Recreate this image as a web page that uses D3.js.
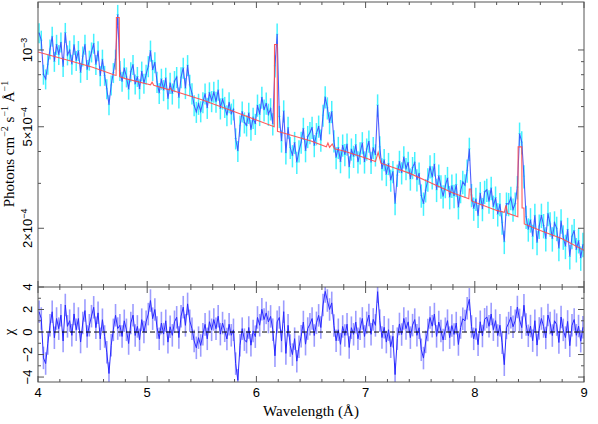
<!DOCTYPE html>
<html>
<head>
<meta charset="utf-8">
<script src="https://cdn.jsdelivr.net/npm/d3@7"></script>
<style>
  body { margin: 0; background: #fff; }
  svg { display: block; }
  .num { font-family: "Liberation Sans", Arial, sans-serif; font-size: 13px; fill: #000; }
  .ttl { font-family: "Liberation Serif", "Times New Roman", serif; font-size: 15px; fill: #000; }
</style>
</head>
<body>
<svg id="chart" width="598" height="424"></svg>
<script>
/* ---------- data (flux in units of 1e-4 photons cm^-2 s^-1 A^-1) ---------- */
const binStart = 4.0, binWidth = 0.02;   // 250 bins, 4.00 - 9.00 A

const flux = [
  11.68, 10.92, 8.03, 7.70, 8.79,   10.08, 11.32, 9.02, 10.52, 9.59,
  10.73, 8.61, 11.71, 9.56, 9.98,   8.79, 10.49, 9.09, 9.95, 8.17,
  9.46, 10.53, 8.38, 9.12, 9.82,    10.62, 8.77, 9.93, 7.92, 9.20,
  7.95, 7.04, 6.10, 7.29, 8.15,     9.20, 13.78, 8.30, 7.53, 8.51,
  7.84, 7.02, 8.22, 8.77, 7.35,     7.87, 7.04, 8.26, 7.41, 8.02,
  8.64, 9.94, 8.35, 8.95, 7.50,     6.78, 7.71, 6.96, 7.78, 6.45,
  7.43, 6.75, 7.55, 7.83, 6.51,     7.82, 8.52, 7.09, 8.72, 7.30,
  6.76, 6.07, 5.72, 6.15, 5.75,     6.24, 6.75, 5.93, 6.82, 6.30,
  6.86, 6.27, 6.98, 5.90, 6.45,     5.98, 5.55, 6.24, 5.63, 5.85,
  4.50, 4.02, 5.05, 5.74, 5.20,     5.06, 5.67, 4.87, 5.42, 5.13,
  6.08, 5.59, 6.53, 5.82, 6.19,     5.60, 5.88, 5.13, 8.67, 11.54,
  5.49, 4.40, 5.77, 3.95, 4.97,     4.15, 3.85, 4.34, 3.63, 4.02,
  4.35, 4.93, 4.03, 4.58, 4.74,     4.98, 4.22, 4.70, 5.03, 4.43,
  5.55, 6.55, 5.93, 5.19, 5.74,     4.40, 3.79, 4.15, 3.65, 4.24,
  3.89, 4.28, 3.48, 4.09, 3.83,     4.26, 3.64, 3.95, 4.33, 3.64,
  4.09, 4.39, 3.63, 4.14, 3.88,     6.09, 4.17, 3.42, 3.72, 3.25,
  3.59, 3.09, 3.34, 2.50, 3.23,     3.66, 3.30, 3.81, 3.43, 3.63,
  3.12, 3.46, 3.62, 3.10, 3.29,     2.69, 2.50, 2.82, 3.11, 3.50,
  3.17, 3.57, 2.83, 3.22, 2.92,     2.67, 2.93, 3.15, 2.65, 2.94,
  2.68, 2.97, 2.42, 2.80, 3.04,     2.95, 3.37, 4.10, 2.70, 2.39,
  2.61, 2.24, 2.75, 2.38, 2.78,     2.83, 2.55, 2.88, 2.43, 2.64,
  2.27, 2.49, 2.11, 1.77, 2.50,     2.49, 2.63, 2.37, 2.50, 2.90,
  4.70, 4.35, 3.20, 2.22, 1.98,     2.16, 1.86, 2.25, 1.76, 2.04,
  2.25, 2.05, 1.82, 2.29, 2.08,     1.82, 2.10, 2.00, 1.67, 2.14,
  1.85, 1.70, 1.98, 1.55, 1.86,     1.96, 1.65, 1.79, 1.53, 1.73
];

// fractional 1-sigma error, one value per 0.5 A stretch
const errFrac = [0.09, 0.09, 0.095, 0.095, 0.10, 0.10, 0.10, 0.105, 0.105, 0.11];

// model curve (red), breakpoints
const modelWave = [4.00, 4.30, 4.50, 4.70, 4.715, 4.718, 4.744, 4.747, 4.80, 5.00,
  5.03, 5.045, 5.06, 5.20, 5.21, 5.225, 5.50, 5.80, 6.00, 6.163,
  6.166, 6.19, 6.193, 6.24, 6.50, 6.64, 6.655, 6.67, 6.695, 6.715,
  6.80, 7.00, 7.09, 7.115, 7.14, 7.40, 7.60, 7.80, 7.945, 7.95,
  7.965, 7.97, 8.20, 8.27, 8.285, 8.30, 8.394, 8.397, 8.43, 8.433,
  8.45, 8.453, 8.60, 8.80, 9.00];
const modelFlux = [9.82, 9.05, 8.55, 7.98, 7.96, 13.4, 13.4, 7.86, 7.72, 7.35,
  7.30, 7.48, 7.27, 6.98, 7.10, 6.95, 6.38, 5.72, 5.31, 5.00,
  10.5, 10.5, 4.80, 4.74, 4.40, 4.17, 4.32, 4.15, 4.28, 4.10,
  4.02, 3.77, 3.65, 3.97, 3.60, 3.29, 3.01, 2.75, 2.61, 2.85,
  2.85, 2.56, 2.35, 2.31, 2.46, 2.29, 2.22, 4.17, 4.17, 2.40,
  2.40, 2.08, 1.96, 1.82, 1.64];

const xTickVals = [4, 5, 6, 7, 8, 9];
const yTickVals = [2, 3, 4, 5, 6, 7, 8, 9, 10];
const yTickLabels = [[2, "2×10", "−4"], [5, "5×10", "−4"], [10, "10", "−3"]];
const chiTickVals = [-4, -3, -2, -1, 0, 1, 2, 3, 4];
const chiTickLabels = [[-4, "−4"], [-2, "−2"], [0, "0"], [2, "2"], [4, "4"]];

/* ---------- layout ---------- */
const L = 38, R = 584, T = 2, MID = 287, B = 382;
const svg = d3.select("#chart");

const x = d3.scaleLinear().domain([4, 9]).range([L, R]);
const y = d3.scaleLog().domain([1.177, 15.42]).range([MID, T]);
const yc = d3.scaleLinear().domain([-4.44, 4]).range([B, MID]);

function modelAt(w) {
  const i = d3.bisectRight(modelWave, w);
  if (i <= 0) return modelFlux[0];
  if (i >= modelWave.length) return modelFlux[modelFlux.length - 1];
  const t = (w - modelWave[i - 1]) / (modelWave[i] - modelWave[i - 1]);
  return modelFlux[i - 1] + t * (modelFlux[i] - modelFlux[i - 1]);
}

const bins = flux.map((f, i) => {
  const w = binStart + binWidth * (i + 0.5);
  const e = errFrac[Math.min(errFrac.length - 1, Math.floor((w - 4) / 0.5))] * f;
  return { w, f, e, chi: (f - modelAt(w)) / e };
});

const defs = svg.append("defs");
defs.append("clipPath").attr("id", "clipTop")
  .append("rect").attr("x", L).attr("y", T).attr("width", R - L).attr("height", MID - T);
defs.append("clipPath").attr("id", "clipRes")
  .append("rect").attr("x", L).attr("y", MID).attr("width", R - L).attr("height", B - MID);

/* ---------- top panel ---------- */
const topG = svg.append("g").attr("clip-path", "url(#clipTop)");
topG.selectAll("line.err").data(bins).join("line").attr("class", "err")
  .attr("x1", d => x(d.w)).attr("x2", d => x(d.w))
  .attr("y1", d => y(d.f - d.e)).attr("y2", d => y(d.f + d.e))
  .attr("stroke", "#44f2ff").attr("stroke-width", 1.5);
topG.selectAll("line.bw").data(bins).join("line").attr("class", "bw")
  .attr("x1", d => x(d.w - binWidth / 2)).attr("x2", d => x(d.w + binWidth / 2))
  .attr("y1", d => y(d.f)).attr("y2", d => y(d.f))
  .attr("stroke", "#44f2ff").attr("stroke-width", 1);
topG.append("path").datum(bins)
  .attr("d", d3.line().x(d => x(d.w)).y(d => y(d.f)))
  .attr("fill", "none").attr("stroke", "#3344ff").attr("stroke-width", 1.1)
  .attr("stroke-opacity", 0.85);
topG.append("path").datum(modelWave.map((w, i) => [w, modelFlux[i]]))
  .attr("d", d3.line().x(d => x(d[0])).y(d => y(d[1])))
  .attr("fill", "none").attr("stroke", "#ff4a4a").attr("stroke-width", 1.1)
  .attr("stroke-opacity", 0.9);

/* ---------- residual panel ---------- */
const resG = svg.append("g").attr("clip-path", "url(#clipRes)");
resG.selectAll("line.rb").data(bins).join("line").attr("class", "rb")
  .attr("x1", d => x(d.w)).attr("x2", d => x(d.w))
  .attr("y1", d => yc(d.chi - 1)).attr("y2", d => yc(d.chi + 1))
  .attr("stroke", "#9c9cff").attr("stroke-width", 1.6);
resG.append("path").datum(bins)
  .attr("d", d3.line().x(d => x(d.w)).y(d => yc(d.chi)))
  .attr("fill", "none").attr("stroke", "#2a2aff").attr("stroke-width", 1);
resG.append("line")
  .attr("x1", L).attr("x2", R).attr("y1", yc(0)).attr("y2", yc(0))
  .attr("stroke", "#000").attr("stroke-width", 1).attr("stroke-dasharray", "5,3");

/* ---------- frames & ticks ---------- */
const ax = svg.append("g").attr("stroke", "#555").attr("stroke-width", 1).attr("fill", "none");
ax.append("rect").attr("x", L).attr("y", T).attr("width", R - L).attr("height", B - T);
ax.append("line").attr("x1", L).attr("x2", R).attr("y1", MID).attr("y2", MID);

function tick(x1, y1, x2, y2) {
  ax.append("line").attr("x1", x1).attr("y1", y1).attr("x2", x2).attr("y2", y2);
}
d3.range(0, 26).map(k => 4 + k * 0.2).forEach(v => {
  const len = xTickVals.some(t => Math.abs(t - v) < 1e-6) ? 6 : 3;
  [[T, 1], [MID, -1], [MID, 1], [B, -1]].forEach(([e, dir]) => tick(x(v), e, x(v), e + dir * len));
});
yTickVals.forEach(v => {
  const len = yTickLabels.some(t => t[0] === v) ? 6 : 3;
  tick(L, y(v), L + len, y(v));
  tick(R, y(v), R - len, y(v));
});
chiTickVals.forEach(v => {
  const len = v % 2 === 0 ? 6 : 3;
  tick(L, yc(v), L + len, yc(v));
  tick(R, yc(v), R - len, yc(v));
});

/* ---------- labels ---------- */
xTickVals.forEach(v => {
  svg.append("text").attr("class", "num").attr("x", x(v)).attr("y", 397)
    .attr("text-anchor", "middle").text(v);
});
yTickLabels.forEach(([v, m, e]) => {
  const t = svg.append("text").attr("class", "num").attr("text-anchor", "middle")
    .attr("transform", `translate(32,${y(v)}) rotate(-90)`);
  t.append("tspan").text(m);
  t.append("tspan").attr("dy", -5).attr("font-size", 9).text(e);
});
chiTickLabels.forEach(([v, s]) => {
  svg.append("text").attr("class", "num").attr("text-anchor", "middle")
    .attr("transform", `translate(32,${yc(v)}) rotate(-90)`).text(s);
});

const yt = svg.append("text").attr("class", "ttl").attr("text-anchor", "middle")
  .attr("transform", "translate(14,144) rotate(-90)");
yt.append("tspan").text("Photons cm");
yt.append("tspan").attr("dy", -6).attr("font-size", 10).text("−2");
yt.append("tspan").attr("dy", 6).text(" s");
yt.append("tspan").attr("dy", -6).attr("font-size", 10).text("−1");
yt.append("tspan").attr("dy", 6).text(" Å");
yt.append("tspan").attr("dy", -6).attr("font-size", 10).text("−1");

svg.append("text").attr("class", "ttl").attr("text-anchor", "middle")
  .attr("transform", `translate(14,${yc(0)}) rotate(-90)`).text("χ");

svg.append("text").attr("class", "ttl").attr("x", 311).attr("y", 416)
  .attr("text-anchor", "middle").text("Wavelength (Å)");
</script>
</body>
</html>
